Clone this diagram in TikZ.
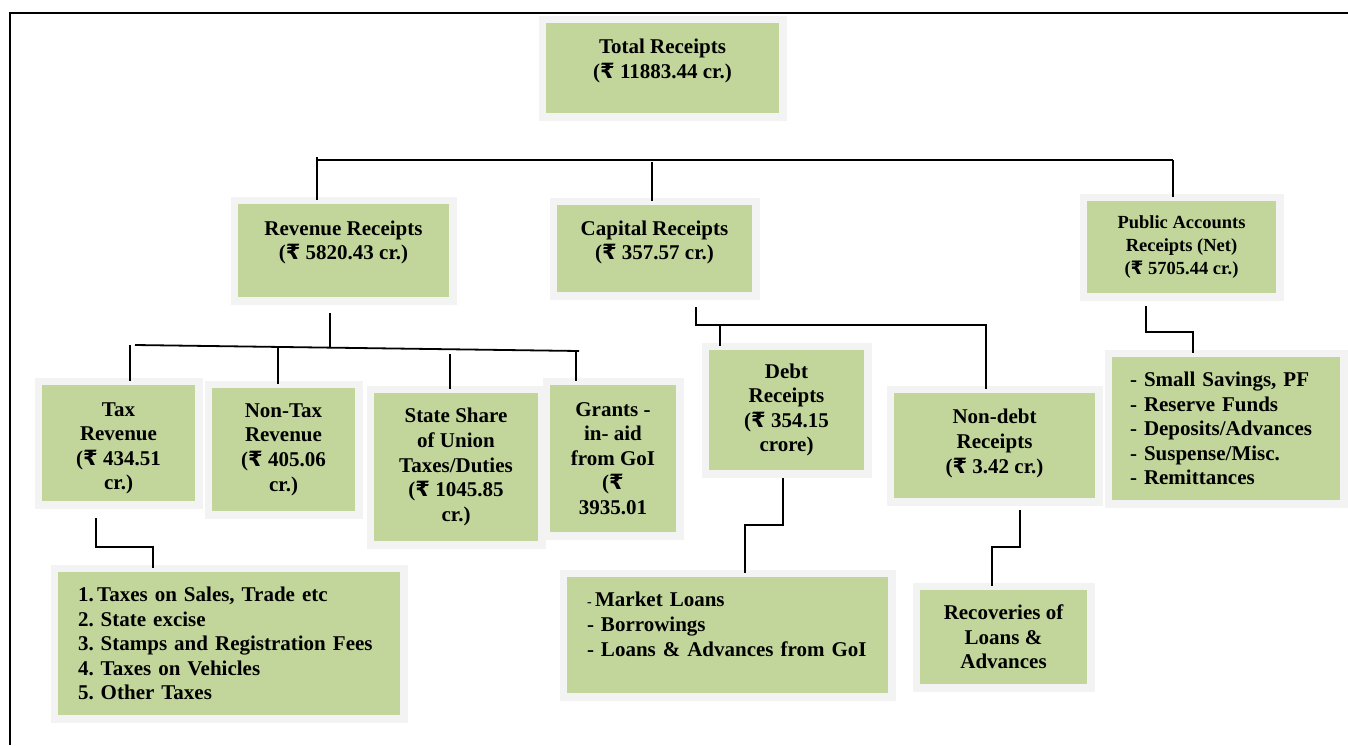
\documentclass[tikz,border=0pt]{standalone}
\usepackage{fontspec}
\setmainfont{Liberation Serif}
\newfontfamily\rupeefont{DejaVu Sans}
\newcommand\myRs{{\rupeefont\bfseries ₹}}
\definecolor{boxgreen}{RGB}{194,214,155}
\definecolor{boxframe}{RGB}{242,243,242}
\begin{document}
\begin{tikzpicture}[x=1pt,y=-1pt,
  box/.style={fill=boxgreen, draw=boxframe, line width=7.5pt, inner sep=0pt, outer sep=0pt,
    align=center, font=\fontsize{21}{24.6}\selectfont\bfseries\frenchspacing},
  listbox/.style={box, align=left, inner ysep=0pt},
  conn/.style={line width=1.8pt, draw=black}]
\useasboundingbox (0,0) rectangle (1348,745);
% frame
\draw[line width=2pt] (10,745) -- (10,13) -- (1348,13);

% level 0
\node[box, minimum width=240.5pt, minimum height=97.5pt] (total) at (662.5,68)
  {Total Receipts\\(\myRs{} 11883.44 cr.)\\[-6pt]\mbox{}};

% level 1
\node[box, minimum width=218.5pt, minimum height=100.5pt] (rev) at (343.5,250.5)
  {Revenue Receipts\\(\myRs{} 5820.43 cr.)\\[-4pt]\mbox{}};
\node[box, minimum width=202.5pt, minimum height=94.5pt] (cap) at (654.5,248.5)
  {Capital Receipts\\(\myRs{} 357.57 cr.)\\[-8pt]\mbox{}};
\node[box, minimum width=196.5pt, minimum height=99.5pt, font=\fontsize{18.5}{23}\selectfont\bfseries\frenchspacing] (pub) at (1181.5,247)
  {Public Accounts\\Receipts (Net)\\(\myRs{} 5705.44 cr.)};

% level 2
\node[box, minimum width=160.5pt, minimum height=123.5pt] (tax) at (118.5,443)
  {\mbox{}\\Tax\\Revenue\\(\myRs{} 434.51\\cr.)};
\node[box, minimum width=150.5pt, minimum height=130.5pt] (nontax) at (283.5,449.5)
  {Non-Tax\\Revenue\\(\myRs{} 405.06\\cr.)};
\node[box, minimum width=171.5pt, minimum height=155.5pt] (state) at (456,467)
  {State Share\\of Union\\Taxes/Duties\\(\myRs{} 1045.85\\cr.)};
\node[box, minimum width=133.5pt, minimum height=154.5pt] (grants) at (613,458.5)
  {Grants -\\in- aid\\from GoI\\(\myRs\\3935.01};
\node[box, minimum width=162.5pt, minimum height=127.5pt] (debt) at (786.5,410)
  {Debt\\Receipts\\(\myRs{} 354.15\\crore)};
\node[box, minimum width=208.5pt, minimum height=112.5pt] (nondebt) at (994.5,445.5)
  {Non-debt\\Receipts\\(\myRs{} 3.42 cr.)\\[-16pt]\mbox{}};
\node[listbox, text width=192pt, inner xsep=21.75pt, minimum height=150.5pt] (publist) at (1226,428.5)
  {- Small Savings, PF\\- Reserve Funds\\- Deposits/Advances\\- Suspense/Misc.\\- Remittances};

% level 3
\node[listbox, text width=302pt, inner xsep=23.75pt, minimum height=150.5pt] (taxlist) at (229,643.5)
  {1.\,Taxes on Sales, Trade etc\\2. State excise\\3. Stamps and Registration Fees\\4. Taxes on Vehicles\\5. Other Taxes};
\node[listbox, text width=281pt, inner xsep=23.75pt, minimum height=123.5pt] (market) at (727.5,635)
  {{\fontsize{14}{14}\selectfont -}\,Market Loans\\- Borrowings\\- Loans \& Advances from GoI\\[-3pt]\mbox{}};
\node[box, minimum width=174.5pt, minimum height=101.5pt] (recov) at (1003.5,637)
  {Recoveries of\\Loans \&\\Advances};

% connectors: top bus
\coordinate (b1) at (317,160);
\coordinate (b2) at (652,160);
\coordinate (b3) at (1173,160);
\draw[conn] (b1) -- (b3);
\draw[conn] ([yshift=3pt]b1) -- (b1 |- rev.north);
\draw[conn] ([yshift=-2pt]b2) -- (b2 |- cap.north);
\draw[conn] (b3) -- (b3 |- pub.north);

% revenue bus
\coordinate (r0) at (330,313);
\coordinate (r1) at (330,347);
\coordinate (rl) at (135,345);
\coordinate (rr) at (579,351);
\draw[conn] (r0) -- (r1);
\draw[conn] (rl) -- (rr);
\draw[conn] (130,345) -- (130,0 |- tax.north);
\draw[conn] (278,347) -- (278,0 |- nontax.north);
\draw[conn] (450,354) -- (450,0 |- state.north);
\draw[conn] (576,351) -- (576,0 |- grants.north);

% tax -> list
\draw[conn] (96,518) -- (96,547) -- (153,547) -- (153,0 |- taxlist.north);

% capital -> debt / non-debt
\draw[conn] (696,307) -- (696,325) -- (986,325) -- (986,0 |- nondebt.north);
\draw[conn] (720,325) -- (720,0 |- debt.north);

% debt -> market
\draw[conn] (783,478) -- (783,525) -- (745,525) -- (745,0 |- market.north);

% non-debt -> recoveries
\draw[conn] (1020,510) -- (1020,547) -- (992,547) -- (992,0 |- recov.north);

% public -> list
\draw[conn] (1146,306) -- (1146,332) -- (1193,332) -- (1193,0 |- publist.north);
\end{tikzpicture}
\end{document}
